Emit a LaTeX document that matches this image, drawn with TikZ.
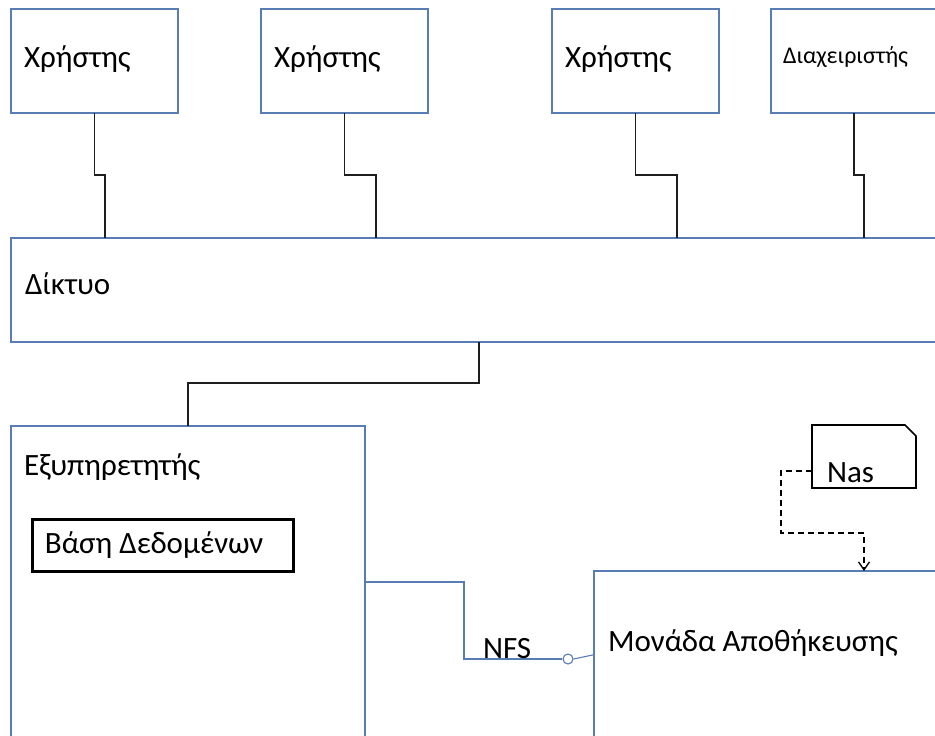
\documentclass[tikz,border=0pt]{standalone}
\usepackage{fontspec}
\setmainfont{Carlito}
\usetikzlibrary{arrows.meta}
\definecolor{boxblue}{RGB}{88,124,180}
\definecolor{wire}{RGB}{30,30,30}
\tikzset{
  box/.style={draw=boxblue, line width=1.1pt, fill=white, inner sep=0pt, outer sep=0pt, anchor=north west},
  lbl/.style={inner sep=0pt, outer sep=0pt, anchor=base west, font=\fontsize{31}{33}\selectfont, text=black},
  small/.style={lbl, font=\fontsize{24}{26}\selectfont},
  wireline/.style={draw=wire, line width=1.2pt},
  nfsline/.style={draw=boxblue, line width=1.1pt},
  dashline/.style={draw=black, line width=1.3pt, dash pattern=on 6pt off 4pt},
}
\begin{document}
\begin{tikzpicture}[x=1pt,y=-1pt]
\useasboundingbox (0,0) rectangle (935,736);
\clip (0,0) rectangle (935,736);
\fill[white] (0,0) rectangle (935,736);
% user boxes
\node[box, minimum width=167, minimum height=104] (u1) at (11,9) {};
\node[box, minimum width=167, minimum height=104] (u2) at (261,9) {};
\node[box, minimum width=167, minimum height=104] (u3) at (552,9) {};
\node[box, minimum width=166, minimum height=104] (adm) at (771,9) {};
\node[lbl] (tu1) at (24,67) {Χρήστης};
\node[lbl] (tu2) at (274,67) {Χρήστης};
\node[lbl] (tu3) at (565,67) {Χρήστης};
\node[small] (tadm) at (783,63) {Διαχειριστής};
% network
\node[box, minimum width=940, minimum height=104] (net) at (11,238) {};
\node[lbl] (tnet) at (25,294) {Δίκτυο};
% server
\node[box, minimum width=354, minimum height=330] (srv) at (11,426) {};
\node[lbl] (tsrv) at (24,475) {Εξυπηρετητής};
\node[draw=black, line width=3pt, inner sep=0pt, outer sep=0pt, anchor=north west, minimum width=261, minimum height=52] (db) at (32,519) {};
\node[lbl] (tdb) at (45,553) {Βάση Δεδομένων};
% storage
\node[box, minimum width=360, minimum height=200] (sto) at (594,571) {};
\node[lbl] (tsto) at (608,651) {Μονάδα Αποθήκευσης};
% NAS
\node[inner sep=0pt, outer sep=0pt, anchor=north west, minimum width=104, minimum height=63] (nas) at (812,425) {};
\draw[black, line width=1.6pt] (nas.north west) -- ([xshift=-11pt]nas.north east) -- ([yshift=-11pt]nas.north east) -- (nas.south east) -- (nas.south west) -- cycle;
\node[lbl] (tnas) at (827,482) {Nas};
% user connectors
\draw[wireline] (u1.south) -- ++(0,62) -| (net.north -| 105,0);
\draw[wireline] (u2.south) -- ++(0,62) -| (net.north -| 376,0);
\draw[wireline] (u3.south) -- ++(0,62) -| (net.north -| 677,0);
\draw[wireline] (adm.south) -- ++(0,62) -| (net.north -| 864,0);
% network to server
\draw[wireline] (net.south -| 479,0) -- ++(0,41) -| (srv.north -| 188,0);
% NFS link
\node[circle, draw=boxblue, line width=1.1pt, fill=white, minimum size=10pt, inner sep=0pt] (ring) at (568,659) {};
\draw[nfsline] (srv.north east) ++(0,156) coordinate (nfsA) -- (464,582) -- (464,659) -- (ring.west);
\draw[nfsline] (ring.east) -- (sto.west |- 0,654.7);
\node[lbl] (tnfs) at (483,658) {NFS};
% NAS dashed link
\draw[dashline, -{Straight Barb[length=8pt,width=11pt,line width=1.3pt]}] (nas.west |- 0,471) -- (781,471) -- (781,533) -| (sto.north -| 864,0);
\end{tikzpicture}
\end{document}
